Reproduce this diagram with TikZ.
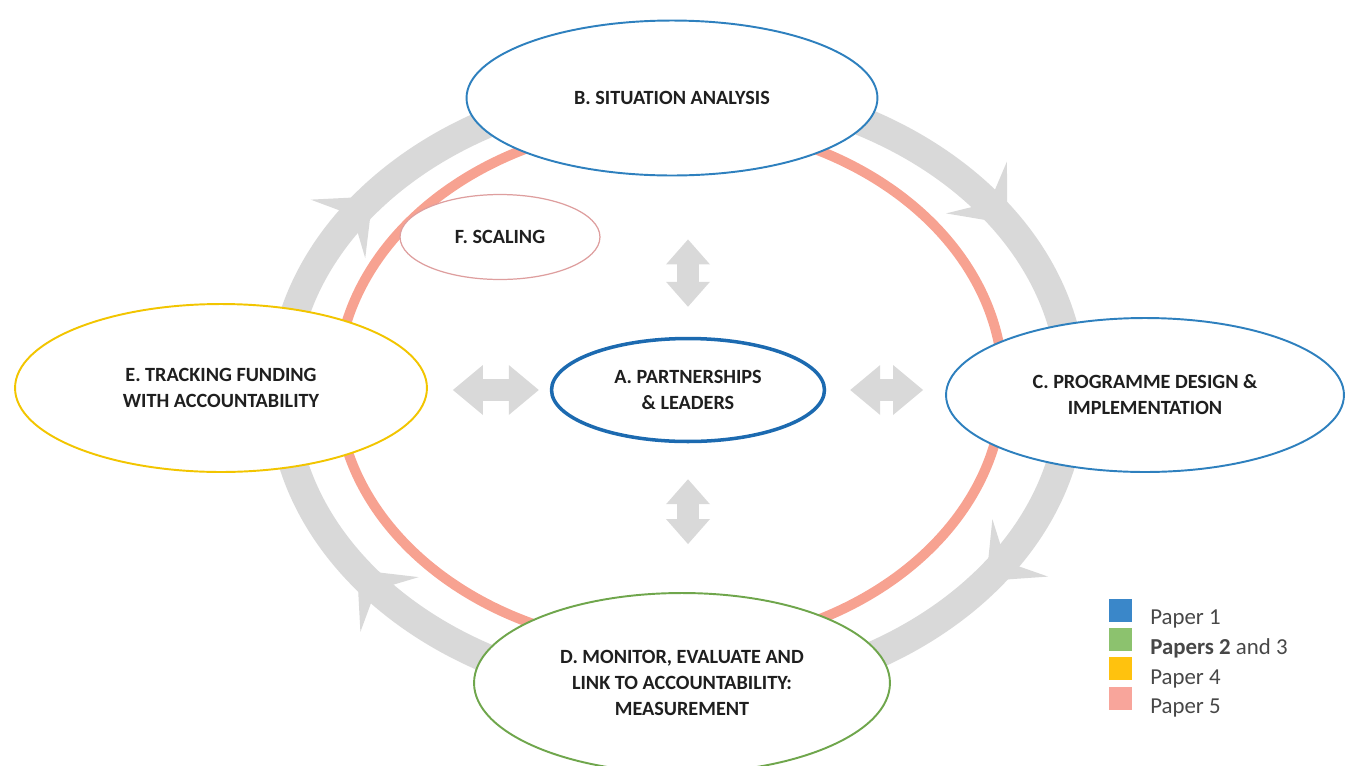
\documentclass[tikz,border=0pt]{standalone}
\usepackage{fontspec}
\setmainfont{Carlito}
\usetikzlibrary{shapes.geometric,arrows.meta,decorations.markings}
\definecolor{cyclegray}{HTML}{D9D9D9}
\definecolor{paperone}{HTML}{2E80BE}
\definecolor{paperonedark}{HTML}{1C6AB0}
\definecolor{papertwo}{HTML}{6FA64C}
\definecolor{paperfour}{HTML}{F2C500}
\definecolor{paperfive}{HTML}{F7A291}
\definecolor{scalingrose}{HTML}{DE9E9E}
\definecolor{keyblue}{HTML}{3A87C9}
\definecolor{keygreen}{HTML}{8CC26E}
\definecolor{keyyellow}{HTML}{FFC20E}
\definecolor{keyrose}{HTML}{F8A59B}

\begin{document}
\begin{tikzpicture}
[x=0.02cm, y=-0.02cm,
stage/.style={shape=ellipse, draw, fill=white, line width=1.1pt, inner sep=0pt, align=center,
  font=\fontsize{11.5}{14.8}\selectfont\bfseries, text=black!88},
cycletip/.tip={Stealth[length=0.95cm,width=1.6cm,inset=0.4cm,line width=0pt]},
linktip/.tip={Triangle[length=0.6cm,width=1cm,line width=0pt]},
vlinktip/.tip={Triangle[length=0.5cm,width=0.88cm,line width=0pt]},
link/.style={draw=cyclegray, line width=0.44cm, linktip-linktip},
vlink/.style={draw=cyclegray, line width=0.44cm, vlinktip-vlinktip},
key/.style={minimum size=0.46cm, inner sep=0pt},
keytext/.style={anchor=base west, inner sep=0pt, text=black!72, font=\fontsize{13}{15}\selectfont}]
\clip (0,0) rectangle (1347,765);
% outer cycle, clockwise
\draw[cyclegray, line width=0.58cm, postaction={decorate}, decoration={markings,
    mark=at position 0.097 with {\arrow{cycletip}},
    mark=at position 0.41 with {\arrow{cycletip}},
    mark=at position 0.60 with {\arrow{cycletip}},
    mark=at position 0.917 with {\arrow{cycletip}}}]
  (677,391) ellipse [x radius=395, y radius=305];
% inner ring
\draw[paperfive, line width=0.2cm] (670,385) ellipse [x radius=333, y radius=262];

\node[stage, draw=paperone, minimum width=8.22cm, minimum height=3.1cm] (situation) at (672,98) {B. SITUATION ANALYSIS};
\node[stage, draw=paperone, minimum width=7.96cm, minimum height=3.08cm] (design) at (1145,395) {C. PROGRAMME DESIGN \&\\IMPLEMENTATION};
\node[stage, draw=papertwo, minimum width=8.32cm, minimum height=3.6cm] (monitor) at (682,683) {D. MONITOR, EVALUATE AND\\LINK TO ACCOUNTABILITY:\\MEASUREMENT};
\node[stage, draw=paperfour, minimum width=8.24cm, minimum height=3.36cm] (tracking) at (221,388) {E. TRACKING FUNDING\\WITH ACCOUNTABILITY};
\node[stage, draw=paperonedark, line width=2pt, minimum width=5.46cm, minimum height=2.06cm] (partners) at (688,390) {A. PARTNERSHIPS\\\& LEADERS};
\node[stage, draw=scalingrose, line width=0.7pt, minimum width=4cm, minimum height=1.7cm] (scaling) at (500,237) {F. SCALING};

% two-way links around A
\draw[link, shorten <=0.22cm, shorten >=0.5cm] (partners.west) -- (partners.west -| tracking.east);
\draw[link, shorten <=0.48cm, shorten >=0.44cm] (partners.east) -- (partners.east -| design.west);
\draw[vlink, shorten <=0.6cm, shorten >=1.26cm] (partners.north) -- (partners.north |- situation.south);
\draw[vlink, shorten <=0.72cm, shorten >=0.96cm] (partners.south) -- (partners.south |- monitor.north);

% legend
\node[key, fill=keyblue] (k1) at (1120,610) {};
\node[key, fill=keygreen] (k2) at (1120,639) {};
\node[key, fill=keyyellow] (k3) at (1120,668) {};
\node[key, fill=keyrose] (k4) at (1120,698) {};
\node[keytext] (t1) at (1150,624) {Paper 1};
\node[keytext] (t2) at (1150,654) {\textbf{Papers 2} and 3};
\node[keytext] (t3) at (1150,684) {Paper 4};
\node[keytext] (t4) at (1150,713) {Paper 5};
\end{tikzpicture}
\end{document}
